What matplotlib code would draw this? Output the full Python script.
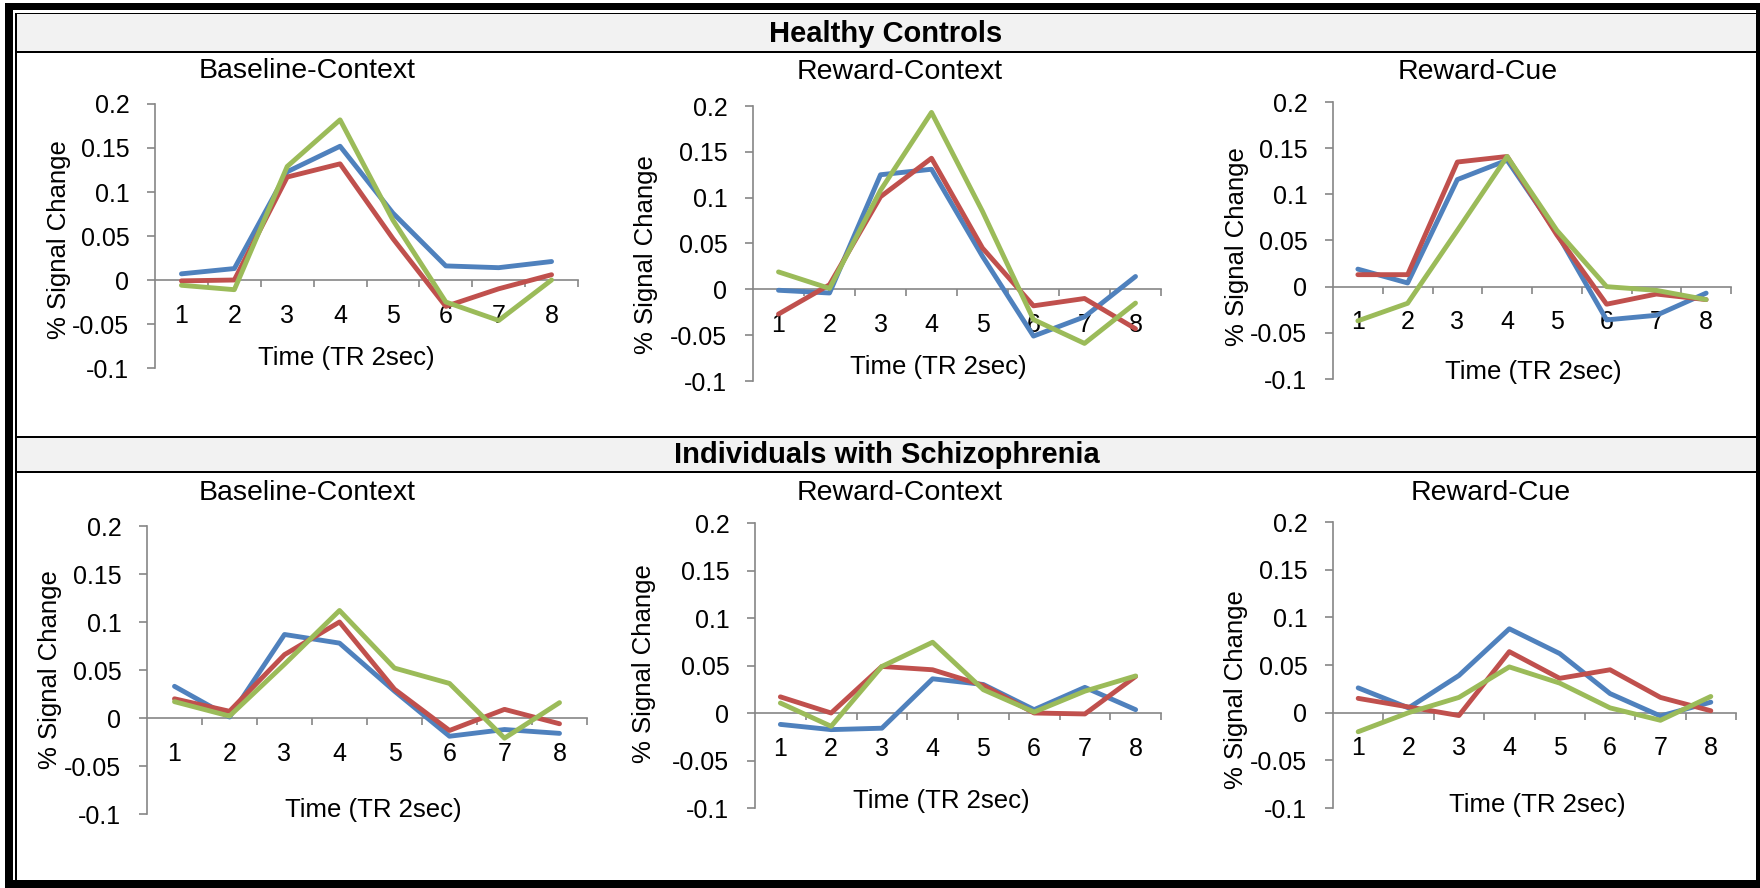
import matplotlib
matplotlib.use('Agg')
import matplotlib.pyplot as plt
from matplotlib.patches import Rectangle

plt.rcParams['font.family'] = ['Liberation Sans', 'DejaVu Sans']
plt.rcParams['axes.unicode_minus'] = False

# ---------------- data ----------------
time_points = [1, 2, 3, 4, 5, 6, 7, 8]
group_titles = ["Healthy Controls", "Individuals with Schizophrenia"]
panel_titles = ["Baseline-Context", "Reward-Context", "Reward-Cue"]
y_ticks = [-0.1, -0.05, 0, 0.05, 0.1, 0.15, 0.2]
y_tick_labels = ["-0.1", "-0.05", "0", "0.05", "0.1", "0.15", "0.2"]
x_label = "Time (TR 2sec)"
y_label = "% Signal Change"

# Healthy controls
hc_baseline_blue = [0.007, 0.013, 0.123, 0.152, 0.076, 0.016, 0.014, 0.021]
hc_baseline_red = [-0.001, 0.000, 0.117, 0.132, 0.047, -0.030, -0.010, 0.006]
hc_baseline_green = [-0.006, -0.011, 0.129, 0.182, 0.068, -0.025, -0.046, 0.000]

hc_rewctx_blue = [-0.001, -0.004, 0.125, 0.131, 0.036, -0.051, -0.030, 0.014]
hc_rewctx_red = [-0.027, 0.005, 0.101, 0.143, 0.045, -0.018, -0.010, -0.043]
hc_rewctx_green = [0.019, 0.001, 0.108, 0.193, 0.085, -0.033, -0.059, -0.015]

hc_rewcue_blue = [0.019, 0.004, 0.116, 0.137, 0.058, -0.036, -0.031, -0.007]
hc_rewcue_red = [0.013, 0.013, 0.135, 0.141, 0.056, -0.019, -0.008, -0.014]
hc_rewcue_green = [-0.037, -0.018, 0.061, 0.141, 0.061, 0.000, -0.004, -0.014]

# Individuals with schizophrenia
sz_baseline_blue = [0.033, 0.001, 0.087, 0.078, 0.028, -0.019, -0.012, -0.016]
sz_baseline_red = [0.020, 0.007, 0.066, 0.100, 0.030, -0.013, 0.009, -0.006]
sz_baseline_green = [0.017, 0.002, 0.056, 0.112, 0.052, 0.036, -0.021, 0.016]

sz_rewctx_blue = [-0.012, -0.0175, -0.016, 0.036, 0.030, 0.0035, 0.027, 0.0035]
sz_rewctx_red = [0.017, 0.000, 0.049, 0.0455, 0.029, 0.000, -0.001, 0.0385]
sz_rewctx_green = [0.0105, -0.014, 0.049, 0.0745, 0.0245, 0.001, 0.023, 0.039]

sz_rewcue_blue = [0.026, 0.005, 0.039, 0.088, 0.062, 0.020, -0.0035, 0.011]
sz_rewcue_red = [0.015, 0.006, -0.003, 0.064, 0.036, 0.045, 0.016, 0.002]
sz_rewcue_green = [-0.020, 0.000, 0.016, 0.048, 0.031, 0.005, -0.008, 0.017]

panels_series = [
    [hc_baseline_blue, hc_baseline_red, hc_baseline_green],
    [hc_rewctx_blue, hc_rewctx_red, hc_rewctx_green],
    [hc_rewcue_blue, hc_rewcue_red, hc_rewcue_green],
    [sz_baseline_blue, sz_baseline_red, sz_baseline_green],
    [sz_rewctx_blue, sz_rewctx_red, sz_rewctx_green],
    [sz_rewcue_blue, sz_rewcue_red, sz_rewcue_green],
]
series_colors = ["#4F81BD", "#C0504D", "#9BBB59"]

# ---------------- layout (pixels) ----------------
W, H = 1760, 888
fig = plt.figure(figsize=(W / 100, H / 100), dpi=100)


def fx(x):
    return x / W


def fy(y):
    return 1 - y / H


def rect(x0, y0, x1, y1, color, z=0):
    fig.add_artist(Rectangle((fx(x0), fy(y1)), (x1 - x0) / W, (y1 - y0) / H,
                             transform=fig.transFigure, facecolor=color,
                             edgecolor='none', zorder=z))


# header bands
rect(15, 14.3, 1756, 50.7, "#F2F2F2")
rect(15, 12.7, 1756, 14.3, "black", 2)
rect(15, 50.7, 1756, 53.0, "black", 2)
rect(15, 437.7, 1756, 471, "#F2F2F2")
rect(15, 435.8, 1756, 437.8, "black", 2)
rect(15, 471, 1756, 473.2, "black", 2)
# outer frame
rect(5, 3.3, 12.7, 888, "black", 3)
rect(5, 3.3, 1760, 10, "black", 3)
rect(1755.5, 3.3, 1760, 888, "black", 3)
rect(5, 880, 1760, 888, "black", 3)
rect(15, 12.7, 16.7, 880, "black", 3)

# axes boxes: left, right, top(0.2), bottom(-0.1)
axes_px = [
    (155, 578, 104, 368),
    (753, 1161, 106, 381),
    (1333, 1731, 102, 379),
    (147, 587, 526, 814),
    (755, 1161, 523, 808),
    (1333, 1736, 522, 808),
]
title_pos = [(307, 78), (900, 79), (1478, 79), (307, 500), (900, 500), (1491, 500)]
ylabel_pos = [(59, 240), (646, 255), (1237, 247), (50, 670), (644, 664), (1236, 690)]
xlabel_pos = [(346, 365), (938, 374), (1533, 379), (373, 817), (941, 808), (1537, 812)]
header_pos = [(886, 42), (887, 463)]

axis_gray = "#868686"

for i, (l, r, t, b) in enumerate(axes_px):
    ax = fig.add_axes([fx(l), fy(b), (r - l) / W, (b - t) / H])
    ax.patch.set_alpha(0)
    ax.set_xlim(0.5, 8.5)
    ax.set_ylim(-0.1, 0.2)
    for sp in ("top", "right"):
        ax.spines[sp].set_visible(False)
    ax.spines["left"].set_color(axis_gray)
    ax.spines["left"].set_linewidth(1.2)
    ax.spines["bottom"].set_color(axis_gray)
    ax.spines["bottom"].set_linewidth(1.2)
    ax.spines["bottom"].set_position(("data", 0))
    ax.set_yticks(y_ticks)
    ax.set_yticklabels(y_tick_labels)
    ax.set_xticks(time_points)
    ax.set_xticklabels([str(v) for v in time_points])
    ax.set_xticks([v + 0.5 for v in time_points], minor=True)
    ax.tick_params(axis="x", which="major", length=0, pad=17, labelsize=18)
    ax.tick_params(axis="x", which="minor", length=4.8, width=1.2,
                   color=axis_gray, direction="out")
    ax.tick_params(axis="y", which="major", length=5.5, width=1.2,
                   color=axis_gray, direction="out", pad=13, labelsize=18)
    for vals, col in zip(panels_series[i], series_colors):
        ax.plot(time_points, vals, color=col, lw=3.5,
                solid_capstyle="round", solid_joinstyle="round", zorder=3)

    tx, ty = title_pos[i]
    fig.text(fx(tx), fy(ty), panel_titles[i % 3], ha="center", va="baseline",
             fontsize=20.5)
    yx, yy = ylabel_pos[i]
    fig.text(fx(yx), fy(yy), y_label, ha="center", va="center",
             rotation=90, fontsize=18.5)
    xx, xy = xlabel_pos[i]
    fig.text(fx(xx), fy(xy), x_label, ha="center", va="baseline",
             fontsize=18.5)

for (hx, hy), s in zip(header_pos, group_titles):
    fig.text(fx(hx), fy(hy), s, ha="center", va="baseline", fontsize=21,
             fontweight="bold", zorder=5)

fig.savefig("out.png", dpi=100)
